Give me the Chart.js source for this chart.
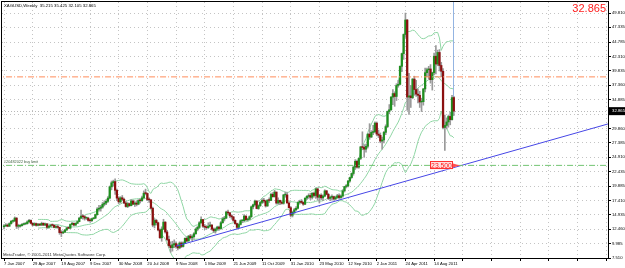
<!DOCTYPE html>
<html>
<head>
<meta charset="utf-8">
<script src="https://cdn.jsdelivr.net/npm/chart.js@4.4.1/dist/chart.umd.min.js"></script>
<style>
html, body { margin: 0; padding: 0; background: #fff; }
canvas { display: block; }
</style>
</head>
<body>
<canvas id="chart" width="625" height="268"></canvas>
<script>
// XAGUSD weekly, one bar per week from 7 Jan 2007 (index 0) to 30 Oct 2011 (index 251)
const dateLabels = ['7 Jan 2007', '29 Apr 2007', '19 Aug 2007', '9 Dec 2007', '30 Mar 2008', '20 Jul 2008',
    '9 Nov 2008', '1 Mar 2009', '21 Jun 2009', '11 Oct 2009', '31 Jan 2010', '23 May 2010',
    '12 Sep 2010', '2 Jan 2011', '24 Apr 2011', '14 Aug 2011'];
const priceTicks = [7.510, 9.985, 12.460, 14.935, 17.410, 19.885, 22.435, 24.910, 27.385, 29.860,
    32.335, 34.885, 37.360, 39.835, 42.310, 44.785, 47.335, 49.810];

const opens = [
    // 2007
    12.90, 13.05, 13.20, 13.00, 13.45, 13.85, 13.90, 14.40, 13.00, 13.00, 13.10, 13.30, 13.40,
    13.45, 13.75, 14.00, 13.50, 13.20, 13.45, 13.15, 13.35, 13.20, 13.50, 13.20, 13.40, 12.80,
    13.00, 13.20, 13.15, 12.80, 12.95, 12.80, 11.90, 11.85, 12.00, 12.35, 12.70, 12.65, 13.30,
    13.50, 13.20, 13.50, 13.80, 14.40, 14.75, 14.65, 14.40, 14.40, 14.00, 13.95, 14.30, 14.40,
    // 2008
    15.00, 15.95, 16.10, 16.30, 16.80, 17.00, 17.30, 17.85, 19.80, 20.50, 20.70, 19.20, 17.85,
    17.20, 17.90, 17.65, 17.00, 16.40, 16.90, 16.55, 17.35, 16.80, 17.00, 16.80, 17.45, 17.40,
    17.90, 18.70, 18.65, 17.60, 17.55, 16.10, 13.20, 14.00, 13.60, 12.35, 11.00, 12.50, 13.70,
    12.00, 10.70, 9.65, 9.30, 9.80, 10.00, 9.50, 9.25, 10.10, 9.50, 10.10, 10.90, 10.45,
    // 2009
    11.30, 11.00, 11.20, 11.70, 12.50, 12.80, 13.60, 14.15, 13.00, 12.85, 12.75, 13.00, 13.20,
    12.50, 12.20, 12.50, 12.85, 12.60, 13.60, 14.25, 14.40, 15.45, 15.30, 14.80, 14.60, 14.00,
    13.45, 12.80, 13.30, 13.95, 13.95, 14.75, 14.10, 14.20, 14.65, 16.35, 16.70, 17.35, 16.05,
    16.55, 17.10, 17.45, 17.35, 16.50, 17.50, 17.45, 18.50, 18.10, 18.90, 17.00, 17.45, 17.15,
    // 2010
    16.95, 18.40, 18.40, 17.00, 16.20, 14.90, 15.40, 15.85, 16.10, 17.10, 17.30, 17.10, 16.80,
    17.85, 18.15, 18.30, 18.00, 18.70, 18.30, 19.45, 18.00, 18.35, 17.90, 18.20, 19.10, 18.50,
    17.80, 18.00, 18.10, 17.70, 17.95, 18.25, 17.95, 18.20, 19.10, 19.85, 19.95, 20.80, 21.40,
    22.10, 23.20, 24.20, 23.20, 24.70, 26.70, 26.60, 26.30, 26.80, 28.90, 28.40, 29.20, 29.30,
    // 2011
    30.80, 28.90, 28.70, 27.70, 27.90, 29.20, 30.20, 32.80, 33.10, 35.30, 35.90, 35.40, 37.30,
    37.50, 40.60, 42.80, 46.10, 48.60, 35.30, 35.50, 35.20, 38.40, 36.60, 35.80, 35.60, 34.45,
    34.50, 36.70, 39.50, 40.00, 40.15, 38.30, 39.50, 42.35, 41.00, 43.00, 40.75, 39.75, 30.05,
    30.40, 31.00, 31.95, 31.40, 35.215
];
const highs = [
    // 2007
    13.30, 13.45, 13.40, 13.60, 14.00, 14.10, 14.60, 14.50, 13.35, 13.30, 13.45, 13.55, 13.60,
    13.95, 14.20, 14.10, 13.60, 13.60, 13.55, 13.50, 13.45, 13.70, 13.60, 13.55, 13.45, 13.15,
    13.35, 13.40, 13.25, 13.10, 13.20, 12.85, 12.15, 12.20, 12.45, 12.80, 12.90, 13.40, 13.65,
    13.60, 13.60, 13.90, 14.55, 15.80, 15.00, 14.85, 14.60, 14.55, 14.25, 14.40, 14.50, 15.10,
    // 2008
    16.20, 16.60, 16.60, 17.10, 17.40, 17.60, 18.10, 19.95, 20.80, 20.95, 21.20, 19.40, 18.10,
    18.10, 18.30, 17.85, 17.20, 17.10, 17.00, 17.60, 17.50, 17.25, 17.40, 17.60, 17.70, 18.20,
    19.10, 19.40, 18.75, 17.90, 17.60, 16.30, 14.30, 14.20, 13.70, 12.50, 12.90, 14.20, 13.80,
    12.30, 11.30, 10.30, 10.40, 10.65, 10.30, 9.90, 10.30, 10.30, 10.30, 11.00, 11.20, 11.40,
    // 2009
    11.60, 11.50, 11.90, 12.70, 13.00, 13.80, 14.60, 14.20, 13.30, 13.10, 13.60, 13.70, 13.30,
    12.70, 12.70, 13.00, 13.00, 13.80, 14.50, 14.70, 15.60, 15.80, 15.40, 15.00, 14.70, 14.10,
    13.50, 13.40, 14.10, 14.10, 15.00, 14.80, 14.40, 14.80, 16.50, 16.80, 17.50, 17.40, 16.70,
    17.30, 17.70, 17.80, 17.50, 17.60, 17.90, 18.70, 18.80, 19.20, 18.90, 17.90, 17.50, 17.40,
    // 2010
    18.50, 18.90, 18.80, 17.20, 16.40, 15.60, 16.10, 16.40, 17.20, 17.50, 17.60, 17.20, 17.90,
    18.30, 18.60, 18.70, 18.80, 18.90, 19.60, 19.50, 18.50, 18.60, 18.40, 19.30, 19.20, 18.70,
    18.20, 18.40, 18.20, 18.20, 18.50, 18.60, 18.40, 19.30, 19.90, 20.20, 20.90, 21.50, 22.20,
    23.40, 24.50, 24.40, 24.80, 26.80, 29.30, 27.10, 27.20, 29.00, 30.70, 29.50, 30.40, 31.00,
    // 2011
    31.00, 29.60, 29.10, 28.40, 29.40, 30.50, 32.90, 34.00, 35.40, 36.60, 36.20, 37.60, 38.20,
    40.70, 42.90, 46.20, 49.80, 48.70, 39.40, 37.30, 38.50, 38.90, 38.20, 36.70, 36.30, 35.10,
    36.80, 40.30, 40.30, 40.60, 40.90, 39.60, 42.90, 44.20, 43.40, 43.50, 41.30, 40.20, 32.20,
    31.70, 32.20, 32.70, 35.60, 35.425
];
const lows = [
    // 2007
    12.55, 12.95, 12.90, 12.95, 13.35, 13.65, 13.80, 12.60, 12.65, 12.85, 13.00, 13.20, 13.25,
    13.35, 13.65, 13.40, 13.05, 13.10, 13.00, 13.05, 13.10, 13.10, 13.10, 13.10, 12.60, 12.70,
    12.90, 13.00, 12.75, 12.70, 12.70, 11.60, 11.20, 11.70, 11.90, 12.25, 12.55, 12.60, 13.20,
    13.05, 13.10, 13.45, 13.75, 14.30, 14.20, 14.05, 14.15, 13.85, 13.70, 13.80, 14.20, 14.30,
    // 2008
    14.90, 15.60, 15.60, 16.10, 16.50, 16.70, 17.10, 17.70, 19.30, 19.90, 18.50, 17.40, 16.90,
    17.00, 17.40, 16.90, 16.30, 16.20, 16.40, 16.50, 16.70, 16.40, 16.50, 16.70, 17.00, 17.30,
    17.70, 18.40, 17.40, 17.10, 16.00, 12.90, 12.70, 13.20, 12.20, 10.90, 10.40, 12.40, 11.80,
    10.50, 9.40, 8.50, 8.70, 9.30, 9.20, 8.90, 9.10, 9.30, 9.40, 10.00, 10.30, 10.40,
    // 2009
    10.80, 10.50, 10.90, 11.60, 12.20, 12.60, 13.50, 12.80, 12.40, 12.50, 12.60, 12.90, 12.30,
    11.90, 11.80, 12.30, 12.30, 12.50, 13.50, 13.90, 14.30, 15.00, 14.50, 14.20, 13.80, 13.30,
    12.50, 12.70, 13.20, 13.60, 13.80, 14.00, 13.90, 14.10, 14.50, 16.00, 16.50, 16.00, 15.90,
    16.40, 16.90, 17.00, 16.30, 16.40, 17.10, 17.40, 18.00, 18.00, 16.80, 16.80, 16.70, 16.80,
    // 2010
    16.80, 18.00, 17.00, 16.10, 14.60, 14.60, 15.20, 15.70, 16.00, 16.80, 16.90, 16.60, 16.70,
    17.60, 17.80, 17.60, 17.70, 18.00, 17.80, 17.50, 17.00, 17.60, 17.40, 18.10, 18.40, 17.60,
    17.40, 17.50, 17.50, 17.60, 17.80, 17.70, 17.80, 18.00, 18.90, 19.60, 19.80, 20.60, 21.30,
    21.80, 22.80, 23.00, 23.00, 24.50, 26.20, 24.90, 25.80, 26.50, 28.00, 28.30, 28.80, 29.10,
    // 2011
    28.60, 28.30, 27.40, 26.30, 27.40, 28.80, 30.00, 32.40, 33.00, 34.00, 33.70, 34.70, 37.00,
    37.40, 39.70, 41.80, 45.60, 33.00, 32.30, 33.50, 35.00, 35.60, 35.40, 34.30, 33.50, 32.80,
    33.90, 36.20, 38.80, 38.40, 37.70, 36.50, 39.10, 39.30, 40.70, 39.80, 38.80, 29.80, 26.10,
    29.80, 30.10, 30.50, 31.30, 32.105
];
const closes = [
    // 2007
    13.05, 13.20, 13.00, 13.45, 13.85, 13.90, 14.40, 13.00, 13.00, 13.10, 13.30, 13.40, 13.45,
    13.75, 14.00, 13.50, 13.20, 13.45, 13.15, 13.35, 13.20, 13.50, 13.20, 13.40, 12.80, 13.00,
    13.20, 13.15, 12.80, 12.95, 12.80, 11.90, 11.85, 12.00, 12.35, 12.70, 12.65, 13.30, 13.50,
    13.20, 13.50, 13.80, 14.40, 14.75, 14.65, 14.40, 14.40, 14.00, 13.95, 14.30, 14.40, 15.00,
    // 2008
    15.95, 16.10, 16.30, 16.80, 17.00, 17.30, 17.85, 19.80, 20.50, 20.70, 19.20, 17.85, 17.20,
    17.90, 17.65, 17.00, 16.40, 16.90, 16.55, 17.35, 16.80, 17.00, 16.80, 17.45, 17.40, 17.90,
    18.70, 18.65, 17.60, 17.55, 16.10, 13.20, 14.00, 13.60, 12.35, 11.00, 12.50, 13.70, 12.00,
    10.70, 9.65, 9.30, 9.80, 10.00, 9.50, 9.25, 10.10, 9.50, 10.10, 10.90, 10.45, 11.30,
    // 2009
    11.00, 11.20, 11.70, 12.50, 12.80, 13.60, 14.15, 13.00, 12.85, 12.75, 13.00, 13.20, 12.50,
    12.20, 12.50, 12.85, 12.60, 13.60, 14.25, 14.40, 15.45, 15.30, 14.80, 14.60, 14.00, 13.45,
    12.80, 13.30, 13.95, 13.95, 14.75, 14.10, 14.20, 14.65, 16.35, 16.70, 17.35, 16.05, 16.55,
    17.10, 17.45, 17.35, 16.50, 17.50, 17.45, 18.50, 18.10, 18.90, 17.00, 17.45, 17.15, 16.95,
    // 2010
    18.40, 18.40, 17.00, 16.20, 14.90, 15.40, 15.85, 16.10, 17.10, 17.30, 17.10, 16.80, 17.85,
    18.15, 18.30, 18.00, 18.70, 18.30, 19.45, 18.00, 18.35, 17.90, 18.20, 19.10, 18.50, 17.80,
    18.00, 18.10, 17.70, 17.95, 18.25, 17.95, 18.20, 19.10, 19.85, 19.95, 20.80, 21.40, 22.10,
    23.20, 24.20, 23.20, 24.70, 26.70, 26.60, 26.30, 26.80, 28.90, 28.40, 29.20, 29.30, 30.80,
    // 2011
    28.90, 28.70, 27.70, 27.90, 29.20, 30.20, 32.80, 33.10, 35.30, 35.90, 35.40, 37.30, 37.50,
    40.60, 42.80, 46.10, 48.60, 35.30, 35.50, 35.20, 38.40, 36.60, 35.80, 35.60, 34.45, 34.50,
    36.70, 39.50, 40.00, 40.15, 38.30, 39.50, 42.35, 41.00, 43.00, 40.75, 39.75, 30.05, 30.40,
    31.00, 31.95, 31.40, 35.20, 32.865
];

// chart objects
const lastPrice = 32.865;
const buyLimit = 23.500;
const upperLevel = 38.78;
const trendX = [96, 337];
const trendY = [9.55, 30.65];

const FONT = '"Liberation Sans", Arial, sans-serif';
const BULL = '#1f8f1f';
const BEAR = '#8b1010';
const WICK = '#9a9a9a';
const BAND = '#8fd6a4';

// Bollinger Bands (20, 2) on the weekly closes, as MetaTrader draws them
const bbUpper = [], bbMiddle = [], bbLower = [];
for (let i = 19; i < closes.length; i++) {
    const win = closes.slice(i - 19, i + 1);
    const m = win.reduce((a, b) => a + b, 0) / 20;
    const sd = Math.sqrt(win.reduce((a, b) => a + (b - m) * (b - m), 0) / 20);
    bbUpper.push({x: i, y: m + 2 * sd});
    bbMiddle.push({x: i, y: m});
    bbLower.push({x: i, y: m - 2 * sd});
}

const wickData = lows.map((l, i) => ({x: i, y: [l, highs[i]]}));
const bodyData = opens.map((o, i) => ({x: i, y: [Math.min(o, closes[i]), Math.max(o, closes[i])]}));
const bodyColors = opens.map((o, i) => closes[i] >= o ? BULL : BEAR);

function bandSet(data) {
    return {type: 'line', data: data, borderColor: BAND, borderWidth: 1, pointRadius: 0, tension: 0, order: 5};
}
function levelSet(level, color, dash) {
    return {type: 'line', data: [{x: -5, y: level}, {x: 345, y: level}], borderColor: color,
        borderWidth: 1, borderDash: dash, pointRadius: 0, order: 0};
}

const overlay = {
    id: 'overlay',
    beforeDatasetsDraw(chart) {
        const {ctx, chartArea: a, scales: {y}} = chart;
        const py = Math.round(y.getPixelForValue(lastPrice)) + 0.5;
        ctx.save();
        ctx.strokeStyle = '#b8b8b8';
        ctx.setLineDash([1, 2]);
        ctx.beginPath();
        ctx.moveTo(a.left, py);
        ctx.lineTo(a.right, py);
        ctx.stroke();
        ctx.restore();
    },
    afterDraw(chart) {
        const {ctx, chartArea: a, scales: {x, y}} = chart;
        ctx.save();
        // frame
        ctx.strokeStyle = '#000';
        ctx.lineWidth = 1;
        ctx.strokeRect(a.left - 0.5, a.top - 0.5, a.right - a.left + 1, a.bottom - a.top + 1);

        // vertical line at the current bar
        const vx = Math.round(x.getPixelForValue(closes.length - 1)) - 0.5;
        ctx.strokeStyle = '#93b4e2';
        ctx.beginPath();
        ctx.moveTo(vx, a.top);
        ctx.lineTo(vx, y.getPixelForValue(highs[highs.length - 1]));
        ctx.stroke();

        // header
        ctx.fillStyle = '#000';
        ctx.font = '4.3px ' + FONT;
        ctx.textBaseline = 'middle';
        ctx.textAlign = 'left';
        ctx.fillText('XAGUSD,Weekly  35.215 35.425 32.105 32.865', 4, 6);

        // copyright
        ctx.fillStyle = '#303030';
        ctx.fillText('MetaTrader, \u00a9 2001-2011 MetaQuotes Software Corp.', 3, 255);

        // pending order label
        const by = y.getPixelForValue(buyLimit);
        ctx.fillStyle = '#3d5f3d';
        ctx.font = '3.8px ' + FONT;
        ctx.fillText('#20482022 buy limit', 4, by - 3);

        // order price box
        ctx.fillStyle = '#ffdede';
        ctx.fillRect(430, by - 4, 23, 8);
        ctx.strokeStyle = '#ff3030';
        ctx.strokeRect(430.5, Math.round(by - 4) + 0.5, 22, 7);
        ctx.fillStyle = '#ff2020';
        ctx.font = '6.8px ' + FONT;
        ctx.textAlign = 'center';
        ctx.fillText('23.500', 441.5, by + 0.3);
        ctx.beginPath();
        ctx.moveTo(453, by - 2);
        ctx.lineTo(460, by);
        ctx.lineTo(453, by + 2);
        ctx.closePath();
        ctx.fillStyle = '#ff5050';
        ctx.fill();

        // big current price
        ctx.fillStyle = '#ff2020';
        ctx.font = '11px ' + FONT;
        ctx.textAlign = 'right';
        ctx.textBaseline = 'top';
        ctx.fillText('32.865', 606, 3);

        // current price on the axis
        const py = y.getPixelForValue(lastPrice);
        ctx.fillStyle = '#000';
        ctx.fillRect(a.right + 1, py - 4, 625 - a.right - 1, 8);
        ctx.fillStyle = '#fff';
        ctx.font = '4.3px ' + FONT;
        ctx.textAlign = 'left';
        ctx.textBaseline = 'middle';
        ctx.fillText('32.865', a.right + 4, py);
        ctx.restore();
    }
};

new Chart(document.getElementById('chart'), {
    type: 'bar',
    data: {
        datasets: [
            bandSet(bbUpper), bandSet(bbMiddle), bandSet(bbLower),
            {data: wickData, backgroundColor: WICK, barThickness: 1, grouped: false, order: 3},
            {data: bodyData, backgroundColor: bodyColors, barThickness: 1.6, grouped: false, order: 2,
                minBarLength: 0.8},
            levelSet(upperLevel, '#ff8c5a', [6, 2, 1, 2]),
            levelSet(buyLimit, '#72c472', [6, 2, 1, 2]),
            {type: 'line', data: trendX.map((v, i) => ({x: v, y: trendY[i]})), borderColor: '#4646e6',
                borderWidth: 1, pointRadius: 0, order: 0}
        ]
    },
    options: {
        responsive: false,
        animation: false,
        devicePixelRatio: 1,
        layout: {padding: {left: 2, top: 2, right: 0, bottom: 0}},
        plugins: {legend: {display: false}, tooltip: {enabled: false}},
        scales: {
            x: {
                type: 'linear',
                offset: false,
                min: -1.12,
                max: 337.05,
                afterBuildTicks: (s) => {
                    const t = [];
                    for (let v = 0; v <= 336; v += 16) t.push({value: v});
                    s.ticks = t;
                },
                afterFit: (s) => { s.height = 10; },
                ticks: {
                    autoSkip: false, maxRotation: 0, align: 'start', padding: 0,
                    color: '#000', font: {family: FONT, size: 4.2},
                    callback: (v) => dateLabels[v / 16] || ''
                },
                grid: {offset: false, color: '#c4c4c4', tickColor: '#000', tickLength: 3, lineWidth: 1},
                border: {display: false, dash: [1, 3]}
            },
            y: {
                type: 'linear',
                position: 'right',
                min: 7.51,
                max: 51.71,
                afterBuildTicks: (s) => { s.ticks = priceTicks.map(v => ({value: v})); },
                afterFit: (s) => { s.width = 17; s.paddingTop = 0; s.paddingBottom = 0; },
                ticks: {
                    autoSkip: false, padding: 1, color: '#000', font: {family: FONT, size: 4.2},
                    callback: (v) => v === 32.335 ? '' : v.toFixed(3)
                },
                grid: {color: '#c4c4c4', tickColor: '#000', tickLength: 3, lineWidth: 1},
                border: {display: false, dash: [1, 3]}
            }
        }
    },
    plugins: [overlay]
});
</script>
</body>
</html>
